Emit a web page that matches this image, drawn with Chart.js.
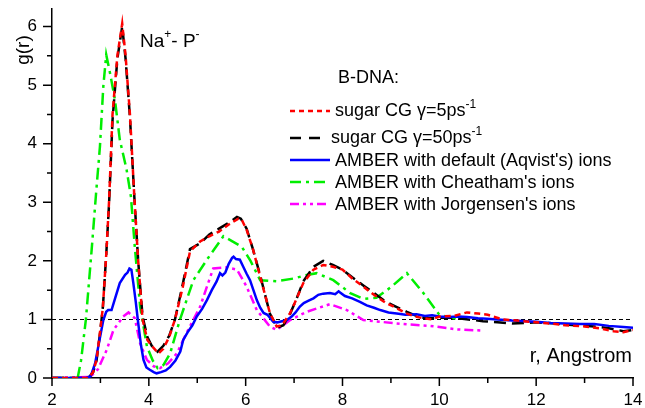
<!DOCTYPE html>
<html>
<head>
<meta charset="utf-8">
<script src="https://cdn.jsdelivr.net/npm/chart.js@4.4.1/dist/chart.umd.min.js"></script>
<style>
  body { margin: 0; background: #fff; }
  #wrap { width: 645px; height: 408px; }
</style>
</head>
<body>
<div id="wrap"><canvas id="myChart" width="645" height="408"></canvas></div>
<script>
// Na+ - P- radial distribution functions, B-DNA
var rCg5 = [2.0, 2.75, 2.85, 2.92, 2.99, 3.05, 3.12, 3.18, 3.25, 3.35, 3.45, 3.52, 3.61, 3.7, 3.78, 3.87, 3.97, 4.06, 4.2, 4.3, 4.42, 4.54, 4.7, 4.85, 5.06, 5.25, 5.45, 5.65, 5.85, 5.92, 6.02, 6.15, 6.3, 6.5, 6.64, 6.75, 6.92, 7.05, 7.19, 7.4, 7.6, 7.8, 8.0, 8.2, 8.43, 8.65, 8.9, 9.1, 9.33, 9.5, 9.67, 9.85, 10.0, 10.3, 10.57, 10.8, 11.0, 11.3, 11.6, 12.0, 12.3, 12.6, 13.0, 13.3, 13.6, 13.8, 14.0];
var gCg5 = [0, 0, 0.1, 0.31, 0.77, 1.2, 2.1, 3.04, 4.5, 5.5, 6.05, 5.5, 4.5, 3.1, 2.0, 1.0, 0.65, 0.55, 0.42, 0.5, 0.7, 1.0, 1.55, 2.16, 2.33, 2.42, 2.5, 2.62, 2.72, 2.7, 2.53, 2.2, 1.73, 1.11, 0.88, 0.9, 1.11, 1.35, 1.62, 1.85, 1.93, 1.9, 1.85, 1.7, 1.56, 1.42, 1.28, 1.2, 1.1, 1.05, 1.02, 1.0, 1.05, 1.06, 1.12, 1.1, 1.08, 1.0, 0.98, 0.95, 0.93, 0.9, 0.88, 0.85, 0.8, 0.78, 0.82];

var rCg50 = [2.0, 2.75, 2.85, 2.92, 2.99, 3.05, 3.12, 3.18, 3.25, 3.35, 3.45, 3.52, 3.61, 3.7, 3.78, 3.87, 3.97, 4.06, 4.18, 4.3, 4.42, 4.54, 4.7, 4.85, 5.06, 5.25, 5.45, 5.65, 5.82, 5.9, 6.02, 6.15, 6.3, 6.5, 6.65, 6.78, 6.92, 7.05, 7.19, 7.4, 7.6, 7.8, 8.0, 8.2, 8.43, 8.65, 8.9, 9.1, 9.33, 9.5, 9.67, 9.85, 10.0, 10.3, 10.6, 10.9, 11.2, 11.5, 11.8, 12.0, 12.4, 12.8, 13.2, 13.5, 13.8, 14.0];
var gCg50 = [0, 0, 0.1, 0.3, 0.75, 1.2, 2.1, 3.0, 4.4, 5.45, 6.0, 5.45, 4.45, 3.1, 2.0, 1.05, 0.7, 0.55, 0.45, 0.55, 0.72, 1.0, 1.6, 2.2, 2.3, 2.45, 2.55, 2.65, 2.75, 2.72, 2.55, 2.2, 1.75, 1.1, 0.86, 0.9, 1.1, 1.35, 1.65, 1.9, 2.0, 1.93, 1.85, 1.72, 1.58, 1.45, 1.3, 1.22, 1.13, 1.07, 1.03, 1.02, 1.03, 1.03, 1.0, 0.97, 0.95, 0.93, 0.94, 0.95, 0.93, 0.9, 0.88, 0.85, 0.8, 0.82];

var rAqvist = [2.0, 2.7, 2.8, 2.89, 2.97, 3.06, 3.12, 3.16, 3.23, 3.3, 3.4, 3.51, 3.56, 3.6, 3.64, 3.68, 3.73, 3.78, 3.84, 3.89, 3.95, 4.02, 4.1, 4.16, 4.25, 4.35, 4.44, 4.55, 4.65, 4.71, 4.8, 4.9, 4.99, 5.1, 5.2, 5.3, 5.4, 5.47, 5.52, 5.58, 5.65, 5.72, 5.75, 5.8, 5.88, 5.95, 6.02, 6.09, 6.16, 6.23, 6.3, 6.37, 6.45, 6.57, 6.65, 6.75, 6.85, 6.95, 7.03, 7.12, 7.2, 7.3, 7.4, 7.5, 7.6, 7.74, 7.85, 7.92, 7.95, 8.05, 8.2, 8.36, 8.5, 8.65, 8.78, 8.95, 9.12, 9.3, 9.53, 9.7, 9.85, 10.0, 10.2, 10.4, 10.57, 10.8, 10.98, 11.2, 11.5, 11.8, 12.0, 12.3, 12.6, 12.9, 13.2, 13.5, 13.8, 14.0];
var gAqvist = [0, 0, 0.03, 0.25, 0.6, 0.99, 1.13, 1.16, 1.16, 1.35, 1.62, 1.76, 1.8, 1.87, 1.85, 1.62, 1.3, 0.94, 0.55, 0.31, 0.18, 0.14, 0.1, 0.08, 0.1, 0.13, 0.19, 0.3, 0.45, 0.65, 0.78, 0.9, 1.05, 1.18, 1.33, 1.5, 1.65, 1.79, 1.75, 1.8, 1.95, 2.05, 2.07, 2.03, 2.02, 1.9, 1.78, 1.67, 1.5, 1.33, 1.2, 1.11, 1.08, 0.96, 0.95, 0.97, 0.99, 1.05, 1.12, 1.22, 1.28, 1.32, 1.36, 1.42, 1.44, 1.45, 1.43, 1.48, 1.46, 1.4, 1.36, 1.3, 1.24, 1.2, 1.16, 1.12, 1.1, 1.08, 1.09, 1.06, 1.07, 1.05, 1.04, 1.05, 1.04, 1.02, 1.01, 1.0, 0.98, 0.97, 0.96, 0.94, 0.93, 0.92, 0.92, 0.89, 0.87, 0.86];

var rCheatham = [2.0, 2.53, 2.6, 2.7, 2.82, 2.91, 2.99, 3.06, 3.12, 3.2, 3.3, 3.4, 3.54, 3.63, 3.71, 3.82, 3.96, 4.08, 4.18, 4.3, 4.44, 4.64, 4.92, 5.2, 5.54, 5.92, 6.1, 6.3, 6.64, 7.0, 7.26, 7.47, 7.81, 8.16, 8.43, 8.7, 9.0, 9.33, 9.67, 10.0, 10.3, 10.55];
var gCheatham = [0, 0, 0.3, 1.0, 2.2, 3.15, 3.95, 4.98, 5.52, 5.2, 4.75, 4.07, 3.56, 3.1, 2.24, 1.22, 0.54, 0.3, 0.17, 0.22, 0.42, 0.99, 1.67, 2.02, 2.42, 2.24, 2.0, 1.67, 1.65, 1.7, 1.76, 1.79, 1.67, 1.45, 1.35, 1.37, 1.55, 1.79, 1.45, 1.08, 1.02, 1.02];

var rJorgensen = [2.0, 2.79, 2.95, 3.13, 3.27, 3.47, 3.58, 3.71, 3.82, 3.96, 4.1, 4.23, 4.4, 4.58, 4.78, 5.06, 5.2, 5.33, 5.61, 5.82, 6.02, 6.23, 6.5, 6.64, 6.92, 7.26, 7.74, 8.09, 8.43, 8.78, 9.26, 9.81, 10.36, 10.88];
var gJorgensen = [0, 0.02, 0.15, 0.48, 0.82, 1.05, 1.12, 1.02, 0.59, 0.31, 0.2, 0.17, 0.25, 0.42, 0.77, 1.22, 1.56, 1.87, 1.89, 1.85, 1.56, 1.16, 0.88, 0.82, 0.99, 1.13, 1.26, 1.16, 0.99, 0.96, 0.92, 0.89, 0.83, 0.81];

var xTicks = [2, 4, 6, 8, 10, 12, 14];
var yTicks = [0, 1, 2, 3, 4, 5, 6];

var FONT = '"Liberation Sans", Arial, sans-serif';

function pts(rs, gs) {
  var out = [];
  for (var i = 0; i < rs.length; i++) {
    out.push({x: rs[i], y: gs[i]});
  }
  return out;
}

// legend rows: colour, dash, sample end, text pieces [text, isSuperscript]
var legendRows = [
  {color: '#ff0000', dash: [5, 4], end: 330, x: 335, parts: [['sugar CG \u03b3=5ps', false], ['-1', true]]},
  {color: '#000000', dash: [11, 8], end: 321, x: 331, parts: [['sugar CG \u03b3=50ps', false], ['-1', true]]},
  {color: '#0000ff', dash: [], end: 330, x: 335, parts: [["AMBER with default (Aqvist's) ions", false]]},
  {color: '#00ee00', dash: [11, 5, 3, 5], end: 330, x: 335, parts: [["AMBER with Cheatham's ions", false]]},
  {color: '#ff00ff', dash: [9, 4, 3, 4, 3, 4], end: 330, x: 335, parts: [["AMBER with Jorgensen's ions", false]]}
];
var legendLineY = [111, 138, 160, 182, 204];
var legendBaseY = [116, 143, 166, 188, 210];

function richText(ctx, parts, x, y, size) {
  var cx = x;
  parts.forEach(function(p) {
    if (p[1]) {
      ctx.font = Math.round(size * 0.65) + 'px ' + FONT;
      ctx.fillText(p[0], cx, y - size * 0.45);
    } else {
      ctx.font = size + 'px ' + FONT;
      ctx.fillText(p[0], cx, y);
    }
    cx += ctx.measureText(p[0]).width;
  });
}

var decorations = {
  id: 'decorations',
  beforeDatasetsDraw: function(chart) {
    var ctx = chart.ctx, a = chart.chartArea;
    var y1 = chart.scales.y.getPixelForValue(1);
    ctx.save();
    ctx.strokeStyle = '#000';
    ctx.lineWidth = 1;
    ctx.setLineDash([4, 3]);
    ctx.beginPath();
    ctx.moveTo(a.left, Math.round(y1) + 0.5);
    ctx.lineTo(a.right, Math.round(y1) + 0.5);
    ctx.stroke();
    ctx.restore();
  },
  afterDraw: function(chart) {
    var ctx = chart.ctx, a = chart.chartArea;
    var xs = chart.scales.x, ys = chart.scales.y;
    ctx.save();
    ctx.strokeStyle = '#000';
    ctx.lineWidth = 1.5;
    ctx.beginPath();
    // tick marks, major and minor
    for (var v = 2; v <= 14; v++) {
      var px = xs.getPixelForValue(v);
      var len = (v % 2 === 0) ? 8 : 5;
      ctx.moveTo(px, a.bottom);
      ctx.lineTo(px, a.bottom + len);
    }
    for (var w = 0; w <= 6; w += 0.5) {
      var py = ys.getPixelForValue(w);
      var l2 = (w % 1 === 0) ? 9 : 5;
      ctx.moveTo(a.left, py);
      ctx.lineTo(a.left - l2, py);
    }
    ctx.stroke();

    ctx.fillStyle = '#000';
    ctx.textBaseline = 'alphabetic';

    // axis titles
    ctx.save();
    ctx.translate(29, 50);
    ctx.rotate(-Math.PI / 2);
    ctx.textAlign = 'center';
    ctx.font = '19px ' + FONT;
    ctx.fillText('g(r)', 0, 0);
    ctx.restore();

    ctx.textAlign = 'right';
    ctx.font = '20px ' + FONT;
    ctx.fillText('r, Angstrom', 632, 362);

    ctx.textAlign = 'left';
    richText(ctx, [['Na', false], ['+', true], ['- P', false], ['-', true]], 140, 47, 19);

    ctx.font = '18px ' + FONT;
    ctx.fillText('B-DNA:', 338, 83);

    // legend
    legendRows.forEach(function(row, i) {
      ctx.strokeStyle = row.color;
      ctx.lineWidth = 2.5;
      ctx.setLineDash(row.dash);
      ctx.beginPath();
      ctx.moveTo(290, legendLineY[i]);
      ctx.lineTo(row.end, legendLineY[i]);
      ctx.stroke();
      ctx.setLineDash([]);
      richText(ctx, row.parts, row.x, legendBaseY[i], 18);
    });
    ctx.restore();
  }
};

function series(rs, gs, color, dash) {
  return {
    data: pts(rs, gs),
    borderColor: color,
    borderWidth: 2.5,
    borderDash: dash,
    pointRadius: 0,
    tension: 0,
    fill: false
  };
}

var ctx = document.getElementById('myChart').getContext('2d');
var myChart = new Chart(ctx, {
  type: 'line',
  data: {
    datasets: [
      series(rCg5, gCg5, '#ff0000', [6, 4]),
      series(rAqvist, gAqvist, '#0000ff', []),
      series(rCg50, gCg50, '#000000', [12, 6]),
      series(rCheatham, gCheatham, '#00ee00', [12, 5, 3, 5]),
      series(rJorgensen, gJorgensen, '#ff00ff', [9, 4, 3, 4, 3, 4])
    ]
  },
  options: {
    responsive: false,
    animation: false,
    devicePixelRatio: 1,
    layout: { padding: { top: 9, right: 12, left: 0, bottom: 0 } },
    plugins: {
      legend: { display: false },
      tooltip: { enabled: false }
    },
    scales: {
      x: {
        type: 'linear',
        min: 2,
        max: 14,
        afterFit: function(scale) {
          scale.height = 30;
          scale.paddingLeft = 0;
          scale.paddingRight = 0;
        },
        afterBuildTicks: function(scale) {
          scale.ticks = xTicks.map(function(v) { return {value: v}; });
        },
        grid: { display: false, drawTicks: false },
        border: { display: true, color: '#000', width: 1.5 },
        ticks: { color: '#000', padding: 12, maxRotation: 0, font: { family: FONT, size: 17 } }
      },
      y: {
        type: 'linear',
        min: 0,
        max: 6.3,
        afterFit: function(scale) {
          scale.width = 52;
          scale.paddingTop = 0;
          scale.paddingBottom = 0;
        },
        afterBuildTicks: function(scale) {
          scale.ticks = yTicks.map(function(v) { return {value: v}; });
        },
        grid: { display: false, drawTicks: false },
        border: { display: true, color: '#000', width: 1.5 },
        ticks: { color: '#000', padding: 15, font: { family: FONT, size: 17 } }
      }
    }
  },
  plugins: [decorations]
});
</script>
</body>
</html>
